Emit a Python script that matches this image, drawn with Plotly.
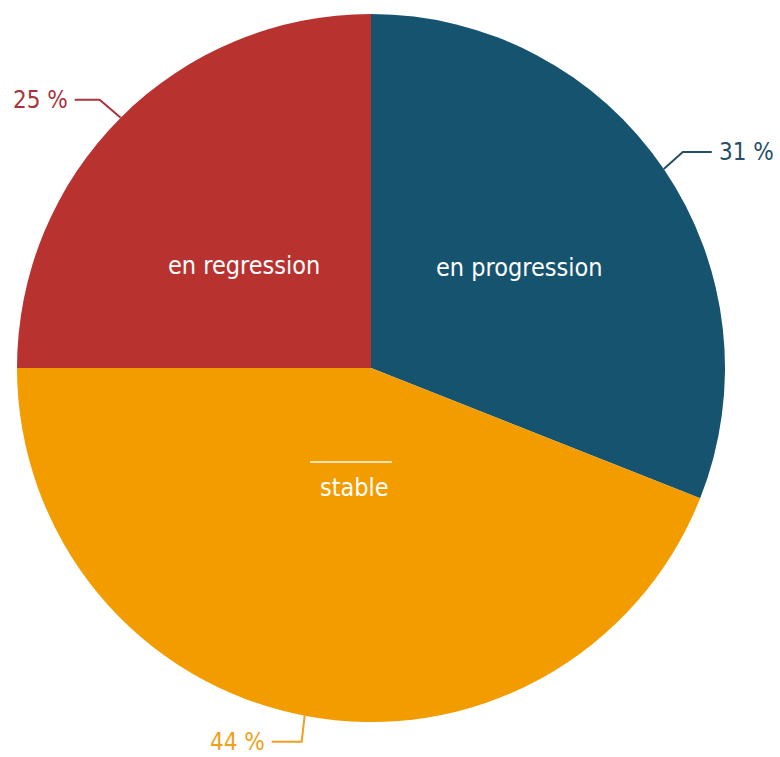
import math
import plotly.graph_objects as go

labels = ["en progression", "stable", "en regression"]
values = [31, 44, 25]
pct_text = ["31 %", "44 %", "25 %"]
colors = ["#16536e", "#f39c00", "#b83230"]
pct_colors = ["#24506a", "#f0a020", "#a8343c"]

W, H = 780, 757
CX, CY, R = 371, 368, 354

# leader elbow offsets (px) and horizontal run
elbow = [(19, -17), (-3, 26), (-21, -18)]
run = [29, -30, -25]
inner_r = [0.507, 0.34, 0.46]
inner_dang = [0.3, -2.7, -6.0]

def px2paper(x, y):
    return x / W, 1 - y / H

fig = go.Figure(go.Pie(
    labels=labels, values=values, sort=False, direction="clockwise", rotation=0,
    marker=dict(colors=colors, line=dict(width=0)),
    textinfo="none", hoverinfo="label+percent", showlegend=False,
    domain=dict(x=[(CX - R) / W, (CX + R) / W], y=[1 - (CY + R) / H, 1 - (CY - R) / H]),
))

font_family = "DejaVu Sans Condensed, DejaVu Sans, sans-serif"
total = sum(values)
cum = 0
annotations = []
shapes = []
for i, v in enumerate(values):
    mid = (cum + v / 2) / total * 2 * math.pi
    cum += v
    sx, sy = math.sin(mid), -math.cos(mid)
    # inside label
    ang = mid + math.radians(inner_dang[i])
    lx, ly = CX + inner_r[i] * R * math.sin(ang), CY - inner_r[i] * R * math.cos(ang)
    px, py = px2paper(lx, ly)
    annotations.append(dict(x=px, y=py, xref="paper", yref="paper", text=labels[i],
                            showarrow=False, xanchor="center", yanchor="middle",
                            font=dict(color="white", size=25, family=font_family)))
    # leader line
    ex, ey = CX + R * sx, CY + R * sy
    bx, by = ex + elbow[i][0], ey + elbow[i][1]
    tx, ty = bx + run[i], by
    p = [px2paper(*pt) for pt in [(ex, ey), (bx, by), (tx, ty)]]
    shapes.append(dict(type="path", xref="paper", yref="paper",
                       path=f"M {p[0][0]} {p[0][1]} L {p[1][0]} {p[1][1]} L {p[2][0]} {p[2][1]}",
                       line=dict(color=pct_colors[i], width=2)))
    ax, ay = px2paper(tx + (5 if run[i] > 0 else -5), ty)
    annotations.append(dict(x=ax, y=ay, xref="paper", yref="paper", text=pct_text[i],
                            showarrow=False, xanchor="left" if run[i] > 0 else "right",
                            yanchor="middle",
                            font=dict(color=pct_colors[i], size=24, family=font_family)))

# faint line above "stable"
a, b = px2paper(310, 462), px2paper(392, 462)
shapes.append(dict(type="line", xref="paper", yref="paper", x0=a[0], y0=a[1], x1=b[0], y1=b[1],
                   line=dict(color="#fbe3b8", width=2)))

fig.update_layout(width=W, height=H, margin=dict(l=0, r=0, t=0, b=0),
                  paper_bgcolor="white", plot_bgcolor="white",
                  annotations=annotations, shapes=shapes)
fig.write_html("out.html", config={"displayModeBar": False},
               post_script="document.body.style.margin='0';document.body.style.overflow='hidden';")
